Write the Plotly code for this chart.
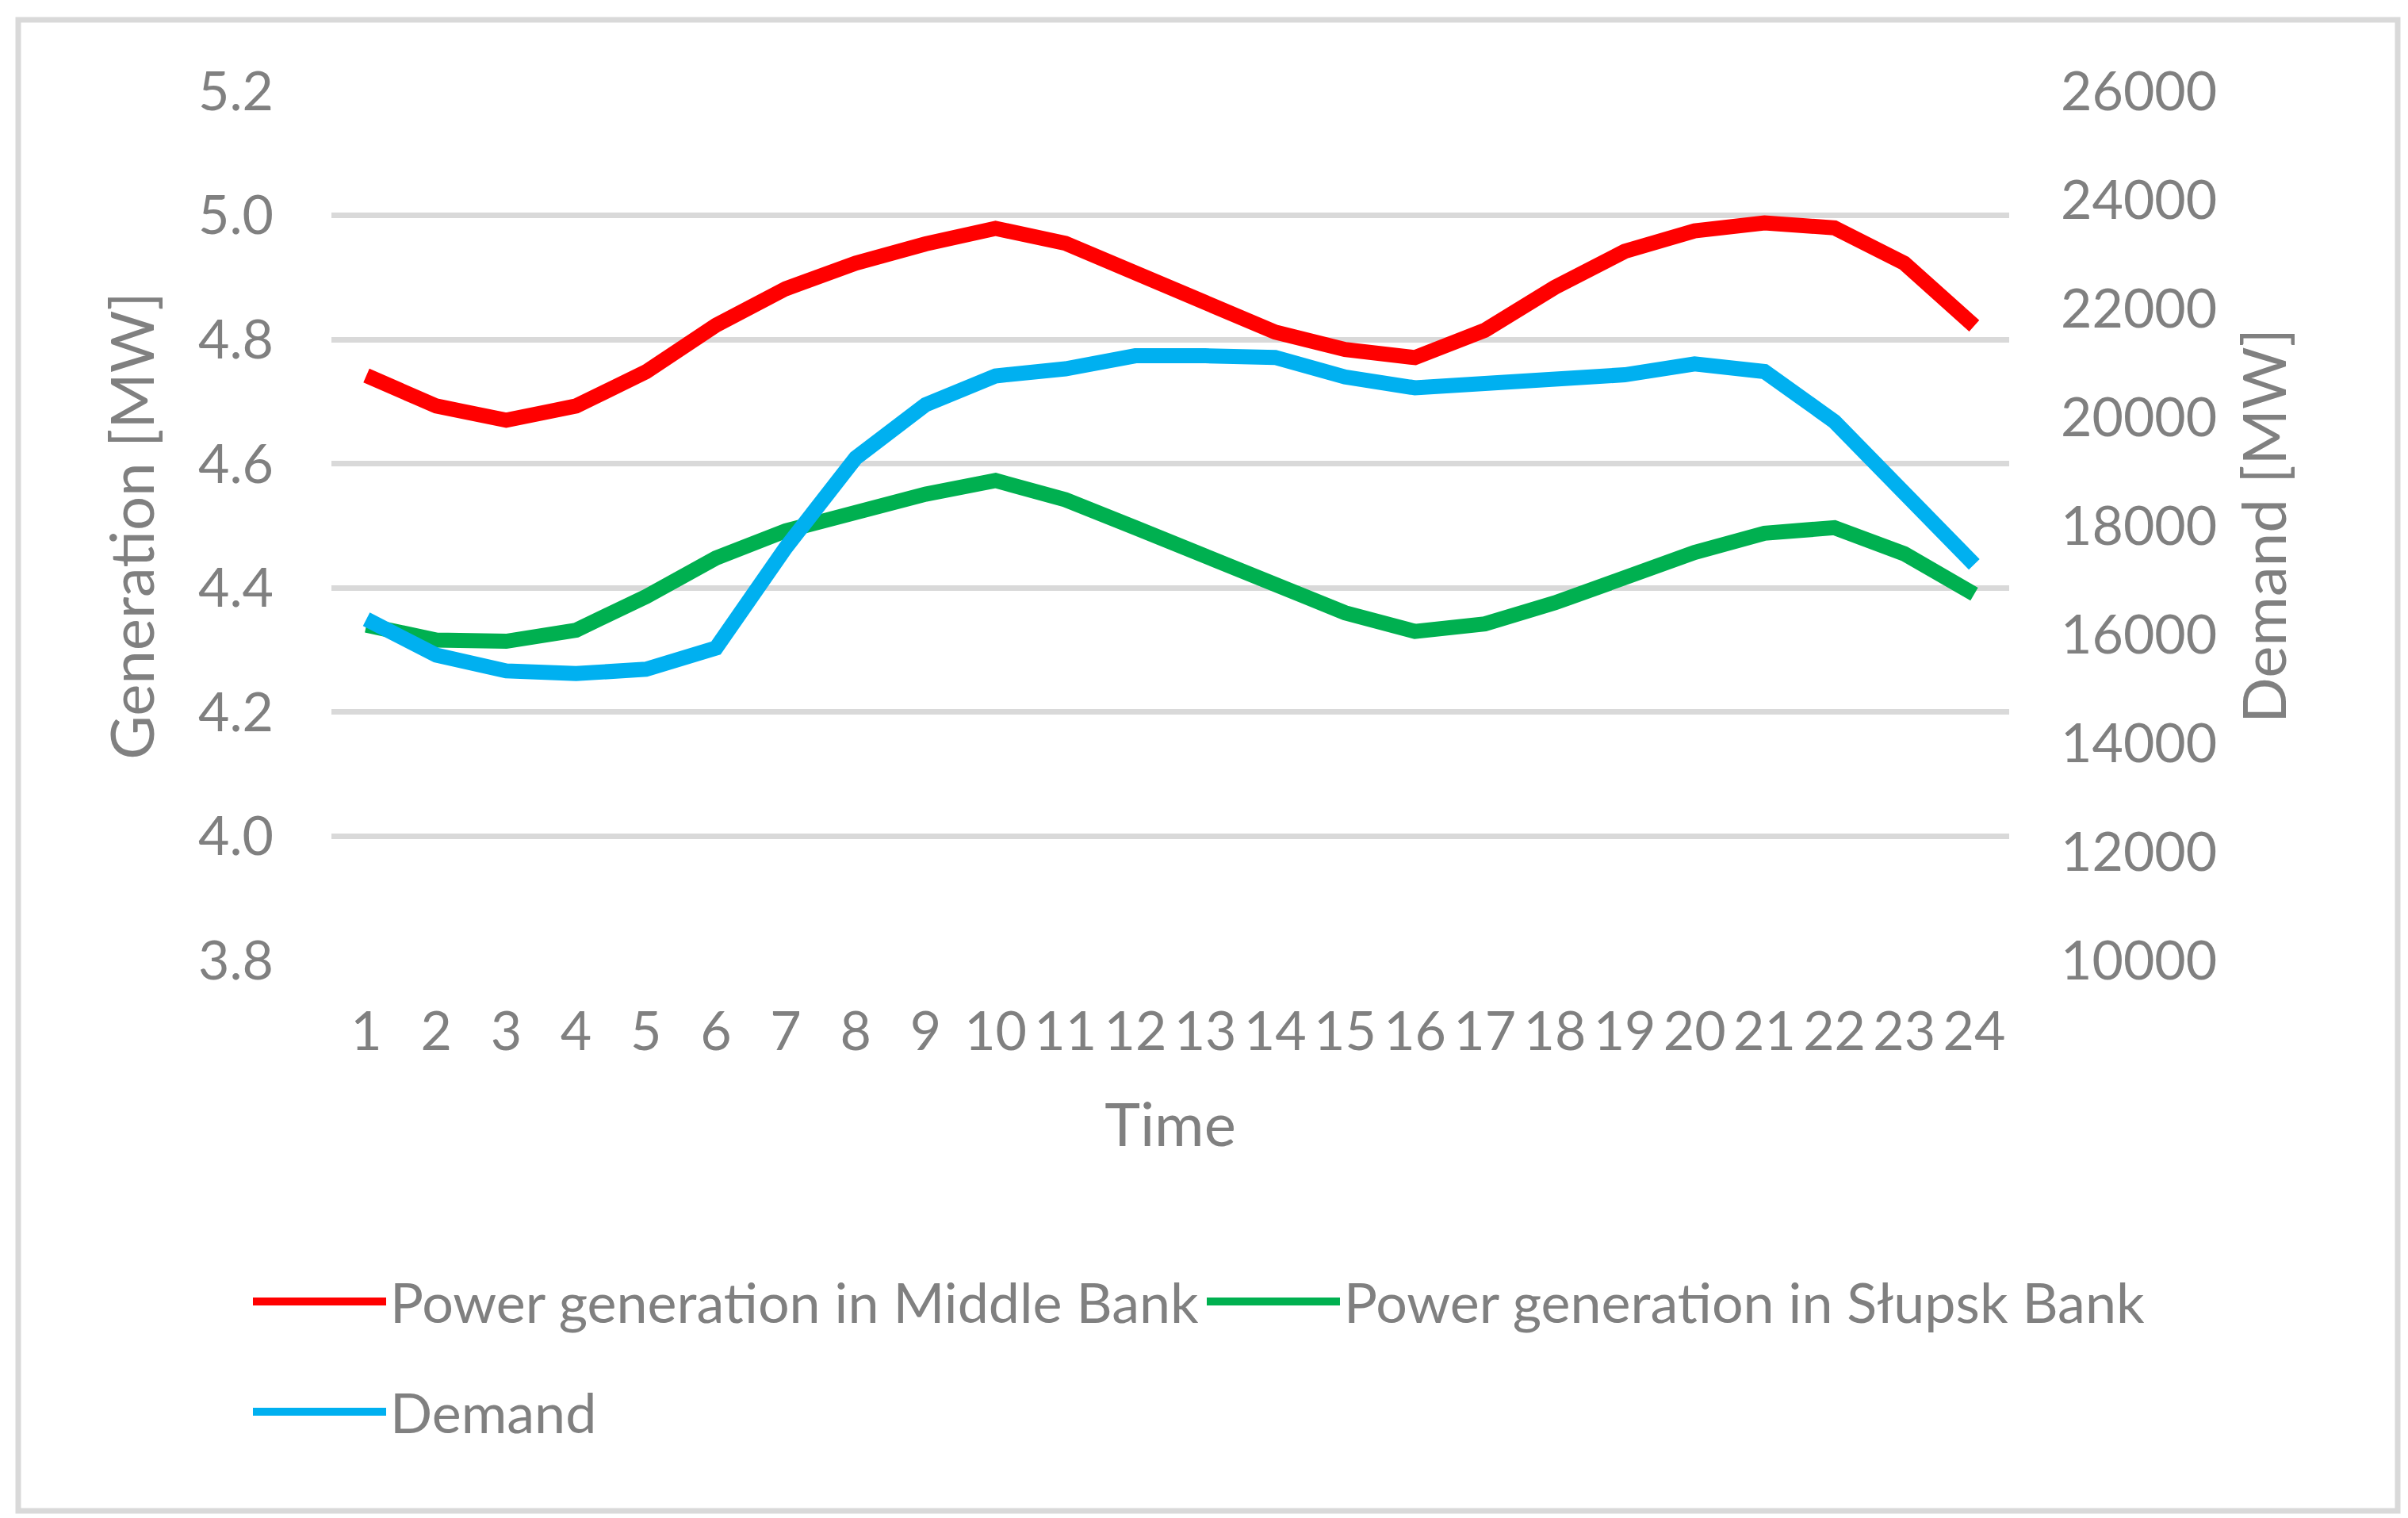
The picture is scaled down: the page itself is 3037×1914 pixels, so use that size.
import plotly.graph_objects as go

hours = list(range(1, 25))
middle_bank = [4.742, 4.693, 4.670, 4.693, 4.748, 4.823, 4.882, 4.923, 4.954, 4.979,
               4.955, 4.908, 4.857, 4.812, 4.784, 4.771, 4.815, 4.884, 4.942, 4.975,
               4.988, 4.980, 4.923, 4.822]
slupsk_bank = [4.340, 4.316, 4.314, 4.332, 4.386, 4.448, 4.492, 4.524, 4.551, 4.573,
               4.542, 4.497, 4.452, 4.403, 4.360, 4.330, 4.342, 4.376, 4.416, 4.457,
               4.488, 4.497, 4.455, 4.390]
demand = [16280, 15620, 15330, 15280, 15360, 15750, 17600, 19250, 20230, 20760,
          20890, 21130, 21130, 21100, 20740, 20540, 20620, 20700, 20780, 20980,
          20840, 19920, 18560, 17290]

left_ticks = [3.8, 4.0, 4.2, 4.4, 4.6, 4.8, 5.0, 5.2]
right_ticks = list(range(10000, 26001, 2000))

GRAY = "#808080"
FONT = "Lato"
TICK_SIZE = 68
LEGEND_SIZE = 70
TITLE_SIZE = 76
W, H = 3037, 1914
L, R, T, B = 410, 3037 - 2526, 107, 1914 - 1203

fig = go.Figure()
fig.add_trace(go.Scatter(x=hours, y=middle_bank, mode="lines",
                         name="Power generation in Middle Bank",
                         line=dict(color="#FF0000", width=19), legend="legend"))
fig.add_trace(go.Scatter(x=hours, y=slupsk_bank, mode="lines",
                         name="Power generation in Słupsk Bank",
                         line=dict(color="#00B050", width=19), legend="legend"))
fig.add_trace(go.Scatter(x=hours, y=demand, mode="lines", name="Demand",
                         line=dict(color="#00B0F0", width=19), yaxis="y2",
                         legend="legend2"))

pw = W - L - R
ph = H - T - B
def px_x(x):
    return (x - L) / pw
def px_y(y):
    return (H - B - y) / ph

fig.update_layout(
    width=W, height=H,
    margin=dict(l=L, r=R, t=T, b=B),
    paper_bgcolor="white", plot_bgcolor="white",
    font=dict(family=FONT, color=GRAY, size=TICK_SIZE),
    xaxis=dict(range=[0.5, 24.5], tickvals=hours, ticktext=[str(h) for h in hours],
               showgrid=False, zeroline=False, showline=False, ticks="",
               ticklabelstandoff=44,
               title=dict(text="Time", font=dict(size=TITLE_SIZE, color=GRAY), standoff=54)),
    yaxis=dict(range=[3.8, 5.2], tickvals=left_ticks, tickformat=".1f",
               showgrid=True, gridcolor="#D9D9D9", gridwidth=7, zeroline=False,
               showline=False, ticks="", ticklabelstandoff=72,
               title=dict(text="Generation [MW]", font=dict(size=TITLE_SIZE, color=GRAY), standoff=30)),
    yaxis2=dict(range=[10000, 26000], tickvals=right_ticks, tickformat="d",
                overlaying="y", side="right",
                showgrid=False, zeroline=False, showline=False, ticks="",
                ticklabelstandoff=64,
                title=dict(text="Demand [MW]", font=dict(size=TITLE_SIZE, color=GRAY), standoff=34)),
    legend=dict(orientation="h", x=px_x(306), y=px_y(1633), xanchor="left", yanchor="middle",
                font=dict(size=LEGEND_SIZE, color=GRAY), itemwidth=168, bgcolor="rgba(0,0,0,0)"),
    legend2=dict(orientation="h", x=px_x(306), y=px_y(1772), xanchor="left", yanchor="middle",
                 font=dict(size=LEGEND_SIZE, color=GRAY), itemwidth=168, bgcolor="rgba(0,0,0,0)"),
    shapes=[dict(type="rect", xref="paper", yref="paper",
                 x0=px_x(15), x1=px_x(3016), y0=px_y(1897), y1=px_y(17),
                 line=dict(color="#D9D9D9", width=7), layer="below")],
)

fig.write_html("out.html")
